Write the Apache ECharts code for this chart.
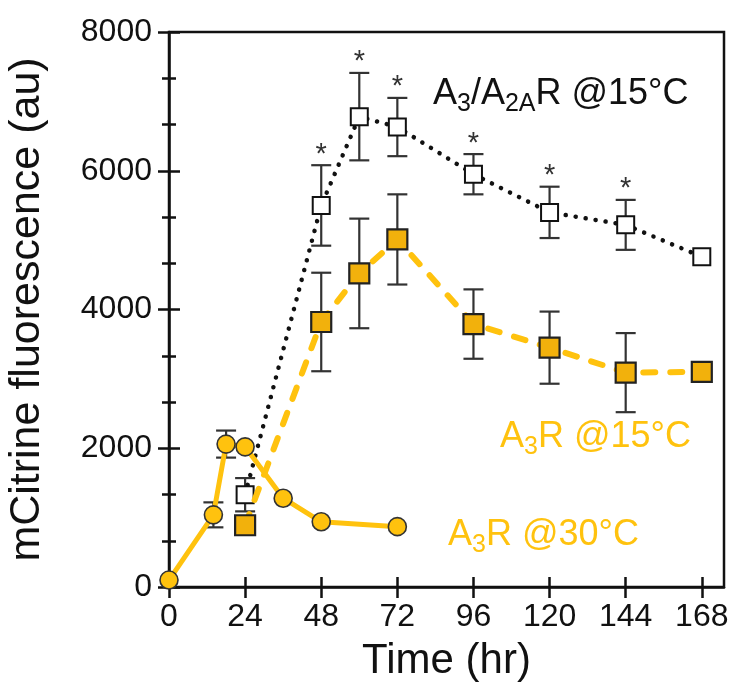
<!DOCTYPE html>
<html>
<head>
<meta charset="utf-8">
<script src="https://cdn.jsdelivr.net/npm/echarts@6/dist/echarts.min.js"></script>
<style>html,body{margin:0;padding:0;background:#fff}#c{width:733px;height:684px}</style>
</head>
<body>
<div id="c"></div>
<script>
// ---- data ----
var xTicks = [0, 24, 48, 72, 96, 120, 144, 168];
var yTicks = [0, 2000, 4000, 6000, 8000];

var t30 = [0, 14, 18, 24, 36, 48, 72];
var v30 = [100, 1040, 2060, 2020, 1280, 940, 870];
var e30 = [0, 180, 195, 0, 0, 0, 0];

var t15 = [24, 48, 60, 72, 96, 120, 144, 168];
var v15 = [890, 3820, 4520, 5010, 3790, 3450, 3090, 3100];
var e15 = [0, 710, 790, 650, 500, 520, 570, 0];

var tAA = [24, 48, 60, 72, 96, 120, 144, 168];
var vAA = [1330, 5500, 6780, 6630, 5950, 5400, 5220, 4760];
var eAA = [240, 580, 630, 420, 290, 370, 360, 0];
var starAA = [0, 1, 1, 1, 1, 1, 1, 0];

var FONT = '"Liberation Sans", Arial, sans-serif';
var YEL = '#FFC20E';
var AXC = '#111';

function pairs(t, v) { return t.map(function (x, i) { return [x, v[i]]; }); }
function errData(t, v, e) { return t.map(function (x, i) { return [x, v[i], e[i]]; }); }
function starData(t, v, e, s) {
  var out = [];
  t.forEach(function (x, i) { if (s[i]) out.push([x, v[i] + e[i]]); });
  return out;
}

function errRender(params, api) {
  var x = api.value(0), y = api.value(1), e = api.value(2);
  if (!e) return null;
  var top = api.coord([x, y + e]);
  var bot = api.coord([x, y - e]);
  var hw = 10;
  var st = { stroke: '#333', lineWidth: 2.2, fill: null };
  return {
    type: 'group',
    children: [
      { type: 'line', shape: { x1: top[0], y1: top[1], x2: bot[0], y2: bot[1] }, style: st },
      { type: 'line', shape: { x1: top[0] - hw, y1: top[1], x2: top[0] + hw, y2: top[1] }, style: st },
      { type: 'line', shape: { x1: bot[0] - hw, y1: bot[1], x2: bot[0] + hw, y2: bot[1] }, style: st }
    ]
  };
}
function starRender(params, api) {
  var p = api.coord([api.value(0), api.value(1)]);
  return {
    type: 'text',
    style: { text: '*', x: p[0], y: p[1] + 4, align: 'center', verticalAlign: 'bottom',
             font: '29px ' + FONT, fill: '#333' }
  };
}

var grid = { left: 169, top: 32, right: 9, bottom: 97, containLabel: false, outerBoundsMode: 'none' };
var chart = echarts.init(document.getElementById('c'));

var mainSub = function (color, size, sub) {
  return {
    n: { fontSize: size, fontFamily: FONT, fill: color, color: color },
    s: { fontSize: sub, fontFamily: FONT, fill: color, color: color, padding: [20, 0, 0, 0] }
  };
};

chart.setOption({
  animation: false,
  backgroundColor: '#fff',
  grid: [
    Object.assign({ show: true, borderColor: AXC, borderWidth: 2.5, backgroundColor: 'transparent' }, grid),
    Object.assign({}, grid)
  ],
  xAxis: [
    {
      gridIndex: 0, type: 'value', min: 0, max: 175, interval: 24,
      splitLine: { show: false },
      axisLine: { show: true, lineStyle: { color: AXC, width: 2.5 } },
      axisTick: { show: true, inside: false, length: 11, customValues: xTicks, lineStyle: { color: AXC, width: 2.5 } },
      axisLabel: { customValues: xTicks, fontSize: 32, fontFamily: FONT, color: '#111', margin: 14 },
      name: 'Time (hr)', nameLocation: 'middle', nameGap: 53,
      nameTextStyle: { fontSize: 42, fontFamily: FONT, color: '#111' }
    },
    {
      gridIndex: 1, type: 'value', min: 0, max: 175, interval: 24,
      splitLine: { show: false }, axisLine: { show: false }, axisLabel: { show: false },
      axisTick: { show: true, inside: true, length: 10, customValues: xTicks, lineStyle: { color: AXC, width: 2.5 } }
    }
  ],
  yAxis: [
    {
      gridIndex: 0, type: 'value', min: 0, max: 8000, interval: 2000,
      splitLine: { show: false },
      axisLine: { show: true, lineStyle: { color: AXC, width: 2.5 } },
      axisTick: { show: true, inside: false, length: 11, lineStyle: { color: AXC, width: 2.5 } },
      minorTick: { show: true, splitNumber: 3, length: 7, lineStyle: { color: AXC, width: 2.5 } },
      axisLabel: { fontSize: 32, fontFamily: FONT, color: '#111', margin: 17,
                   formatter: function (v) { return String(v); } },
      name: 'mCitrine fluorescence (au)', nameLocation: 'middle', nameGap: 120,
      nameTextStyle: { fontSize: 43, fontFamily: FONT, color: '#111' }
    },
    {
      gridIndex: 1, type: 'value', min: 0, max: 8000, interval: 2000,
      splitLine: { show: false }, axisLine: { show: false }, axisLabel: { show: false },
      axisTick: { show: true, inside: true, length: 11, lineStyle: { color: AXC, width: 2.5 } },
      minorTick: { show: true, splitNumber: 3, length: 7, lineStyle: { color: AXC, width: 2.5 } }
    }
  ],
  series: [
    { type: 'custom', name: 'errAA', renderItem: errRender, data: errData(tAA, vAA, eAA), z: 1, silent: true },
    { type: 'custom', name: 'err15', renderItem: errRender, data: errData(t15, v15, e15), z: 1, silent: true },
    { type: 'custom', name: 'err30', renderItem: errRender, data: errData(t30, v30, e30), z: 1, silent: true },
    {
      type: 'line', name: 'A3/A2AR @15°C', data: pairs(tAA, vAA), z: 3,
      symbol: 'rect', symbolSize: 17, showAllSymbol: true,
      lineStyle: { color: '#111', width: 4.5, type: [0.1, 10], cap: 'round' },
      itemStyle: { color: '#fff', borderColor: '#111', borderWidth: 2 }
    },
    {
      type: 'line', name: 'A3R @15°C', data: pairs(t15, v15), z: 4,
      symbol: 'rect', symbolSize: 20, showAllSymbol: true,
      lineStyle: { color: YEL, width: 6, type: [12, 15], cap: 'round' },
      itemStyle: { color: '#F2B10C', borderColor: '#222', borderWidth: 2.2 }
    },
    {
      type: 'line', name: 'A3R @30°C', data: pairs(t30, v30), z: 5,
      symbol: 'circle', symbolSize: 18, showAllSymbol: true,
      lineStyle: { color: YEL, width: 5 },
      itemStyle: { color: '#FFC20E', borderColor: '#333', borderWidth: 1.6 }
    },
    { type: 'custom', name: 'stars', renderItem: starRender, data: starData(tAA, vAA, eAA, starAA), z: 6, silent: true }
  ],
  graphic: [
    { type: 'text', left: 433, top: 76, z: 10,
      style: { text: '{n|A}{s|3}{n|/A}{s|2A}{n|R @15°C}', rich: mainSub('#111', 36, 25) } },
    { type: 'text', left: 500, top: 419, z: 10,
      style: { text: '{n|A}{s|3}{n|R @15°C}', rich: mainSub(YEL, 36, 25) } },
    { type: 'text', left: 448, top: 517, z: 10,
      style: { text: '{n|A}{s|3}{n|R @30°C}', rich: mainSub(YEL, 36, 25) } }
  ]
});
</script>
</body>
</html>
